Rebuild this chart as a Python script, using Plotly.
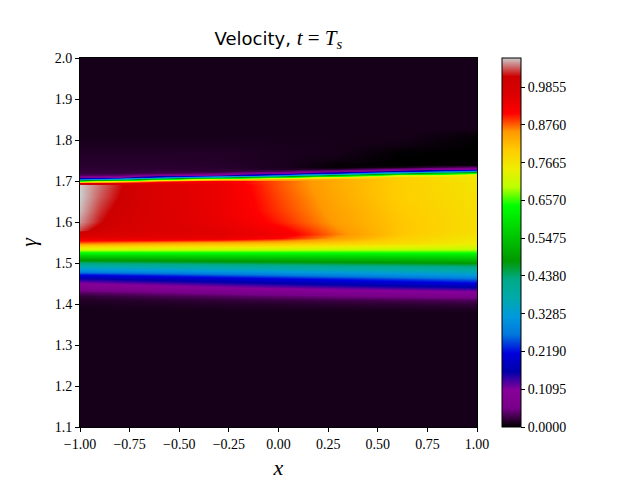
import plotly.graph_objects as go

# sampled columns (x) and rows (gamma) of the velocity field
x_vals = [-1.0, -0.9, -0.8, -0.6, -0.3, 0.0, 0.3, 0.6, 1.0]
gamma_vals = [1.10, 1.38, 1.39, 1.40, 1.41, 1.42, 1.43, 1.44, 1.45, 1.46,
              1.47, 1.48, 1.49, 1.50, 1.51, 1.52, 1.53, 1.54, 1.55, 1.56,
              1.57, 1.58, 1.60, 1.63, 1.66, 1.69, 1.695, 1.70, 1.705, 1.71,
              1.715, 1.72, 1.725, 1.73, 1.735, 1.74, 1.75, 1.77, 1.79, 1.81,
              1.83, 2.00]

# one list per gamma row, values along x_vals
velocity = [
    [.01, .01, .01, .01, .01, .01, .01, .01, .01],
    [.01, .01, .01, .01, .01, .01, .01, .01, .01],
    [.01, .01, .011, .011, .012, .013, .013, .014, .015],
    [.012, .012, .013, .014, .016, .017, .019, .02, .022],
    [.015, .016, .017, .019, .022, .025, .028, .031, .035],
    [.022, .024, .026, .031, .037, .044, .05, .056, .065],
    [.04, .043, .046, .052, .061, .07, .079, .088, .10],
    [.07, .074, .078, .086, .098, .11, .122, .134, .15],
    [.10, .105, .11, .12, .135, .15, .165, .18, .20],
    [.15, .155, .161, .172, .189, .205, .222, .238, .26],
    [.21, .215, .221, .232, .249, .265, .282, .298, .32],
    [.29, .294, .298, .306, .318, .33, .342, .354, .37],
    [.36, .363, .366, .372, .381, .39, .399, .408, .42],
    [.43, .433, .435, .44, .448, .455, .463, .47, .48],
    [.50, .502, .504, .508, .514, .52, .526, .532, .54],
    [.58, .581, .582, .584, .587, .59, .593, .596, .60],
    [.67, .67, .67, .67, .67, .67, .67, .67, .67],
    [.77, .768, .765, .76, .753, .745, .738, .73, .72],
    [.87, .864, .858, .846, .83, .82, .80, .78, .75],
    [.95, .95, .95, .95, .945, .91, .85, .80, .76],
    [.99, .975, .97, .96, .955, .93, .865, .81, .77],
    [1.035, 1.0, .985, .97, .955, .92, .86, .81, .775],
    [1.055, 1.02, .995, .97, .945, .90, .85, .81, .775],
    [1.065, 1.03, 1.005, .97, .94, .89, .845, .805, .775],
    [1.07, 1.04, 1.015, .97, .94, .885, .84, .80, .77],
    [1.07, 1.045, 1.02, .97, .94, .88, .835, .80, .765],
    [.97, .975, .965, .96, .93, .88, .835, .80, .77],
    [.648, .71, .77, .874, .93, .88, .835, .80, .76],
    [.264, .326, .384, .586, .79, .83, .835, .80, .76],
    [.075, .09, .105, .245, .42, .60, .76, .80, .76],
    [.035, .039, .042, .075, .12, .28, .51, .704, .76],
    [.025, .025, .025, .03, .045, .09, .22, .424, .646],
    [.022, .022, .022, .024, .022, .035, .075, .168, .342],
    [.02, .02, .02, .02, .019, .015, .02, .06, .12],
    [.019, .019, .019, .019, .018, .012, .003, .01, .045],
    [.018, .018, .018, .018, .017, .012, .002, 0, .005],
    [.017, .017, .017, .017, .016, .012, .006, 0, 0],
    [.015, .015, .015, .015, .015, .012, .01, .001, 0],
    [.012, .012, .012, .012, .012, .011, .01, .008, 0],
    [.01, .01, .01, .01, .01, .01, .01, .01, .002],
    [.01, .01, .01, .01, .01, .01, .01, .01, .01],
    [.01, .01, .01, .01, .01, .01, .01, .01, .01],
]

cbar_ticks = [0.0, 0.1095, 0.2190, 0.3285, 0.4380, 0.5475, 0.6570, 0.7665, 0.8760, 0.9855]
cbar_labels = ["0.0000", "0.1095", "0.2190", "0.3285", "0.4380",
               "0.5475", "0.6570", "0.7665", "0.8760", "0.9855"]
x_ticks = [-1.0, -0.75, -0.5, -0.25, 0.0, 0.25, 0.5, 0.75, 1.0]
y_ticks = [1.1, 1.2, 1.3, 1.4, 1.5, 1.6, 1.7, 1.8, 1.9, 2.0]

# matplotlib nipy_spectral
nipy_spectral = [
    [0.00, "rgb(0,0,0)"], [0.05, "rgb(119,0,136)"], [0.10, "rgb(136,0,153)"],
    [0.15, "rgb(0,0,170)"], [0.20, "rgb(0,0,221)"], [0.25, "rgb(0,119,221)"],
    [0.30, "rgb(0,153,221)"], [0.35, "rgb(0,170,170)"], [0.40, "rgb(0,170,136)"],
    [0.45, "rgb(0,153,0)"], [0.50, "rgb(0,187,0)"], [0.55, "rgb(0,221,0)"],
    [0.60, "rgb(0,255,0)"], [0.65, "rgb(187,255,0)"], [0.70, "rgb(238,238,0)"],
    [0.75, "rgb(255,204,0)"], [0.80, "rgb(255,153,0)"], [0.85, "rgb(255,0,0)"],
    [0.90, "rgb(221,0,0)"], [0.95, "rgb(204,0,0)"], [1.00, "rgb(204,204,204)"],
]

serif = "Liberation Serif"

fig = go.Figure()
fig.add_trace(go.Heatmap(
    x=x_vals, y=gamma_vals, z=velocity,
    zsmooth="best", zmin=0, zmax=1.07,
    colorscale=nipy_spectral,
    colorbar={
        'x': 1.063, 'xanchor': "left", 'xpad': 0,
        'y': 0.5, 'yanchor': "middle", 'ypad': 0,
        'len': 1, 'thickness': 19,
        'outlinewidth': 1, 'outlinecolor': "black",
        'tickvals': cbar_ticks, 'ticktext': cbar_labels,
        'ticks': "outside", 'ticklen': 4, 'tickcolor': "black",
        'tickfont': {'family': serif, 'size': 14, 'color': "black"},
    },
    hoverinfo="skip",
))

axis_common = dict(
    showline=True, mirror=True, linecolor="black", linewidth=1,
    ticks="outside", ticklen=4, tickcolor="black",
    showgrid=False, zeroline=False, automargin=False,
    tickfont={'family': serif, 'size': 14, 'color': "black"},
)

fig.update_layout(
    width=640,
    height=480,
    margin={'l': 80, 'r': 163, 't': 58, 'b': 53, 'autoexpand': False},
    paper_bgcolor="white",
    plot_bgcolor="white",
    title={
        'text': 'Velocity, <span style="font-family:Liberation Serif;font-size:21px">'
                '<i>t</i> = <i>T</i><sub><i>s</i></sub></span>',
        'x': 0.435, 'xanchor': "center",
        'y': 0.92, 'yanchor': "middle", 'yref': "container",
        'font': {'family': "DejaVu Sans", 'size': 18, 'color': "black"},
    },
    xaxis=dict(axis_common, range=[-1, 1], tickvals=x_ticks, tickformat=".2f",
               title={'text': "<i>x</i>", 'standoff': 10,
                      'font': {'family': serif, 'size': 22, 'color': "black"}}),
    yaxis=dict(axis_common, range=[1.1, 2.0], tickvals=y_ticks, tickformat=".1f",
               title={'text': "<i>γ</i>", 'standoff': 12,
                      'font': {'family': serif, 'size': 22, 'color': "black"}}),
)

# drop the page's default body margin so the figure sits at the window corner
fig.write_html("out.html", config={'displayModeBar': False},
               post_script="document.body.style.margin = '0';")
